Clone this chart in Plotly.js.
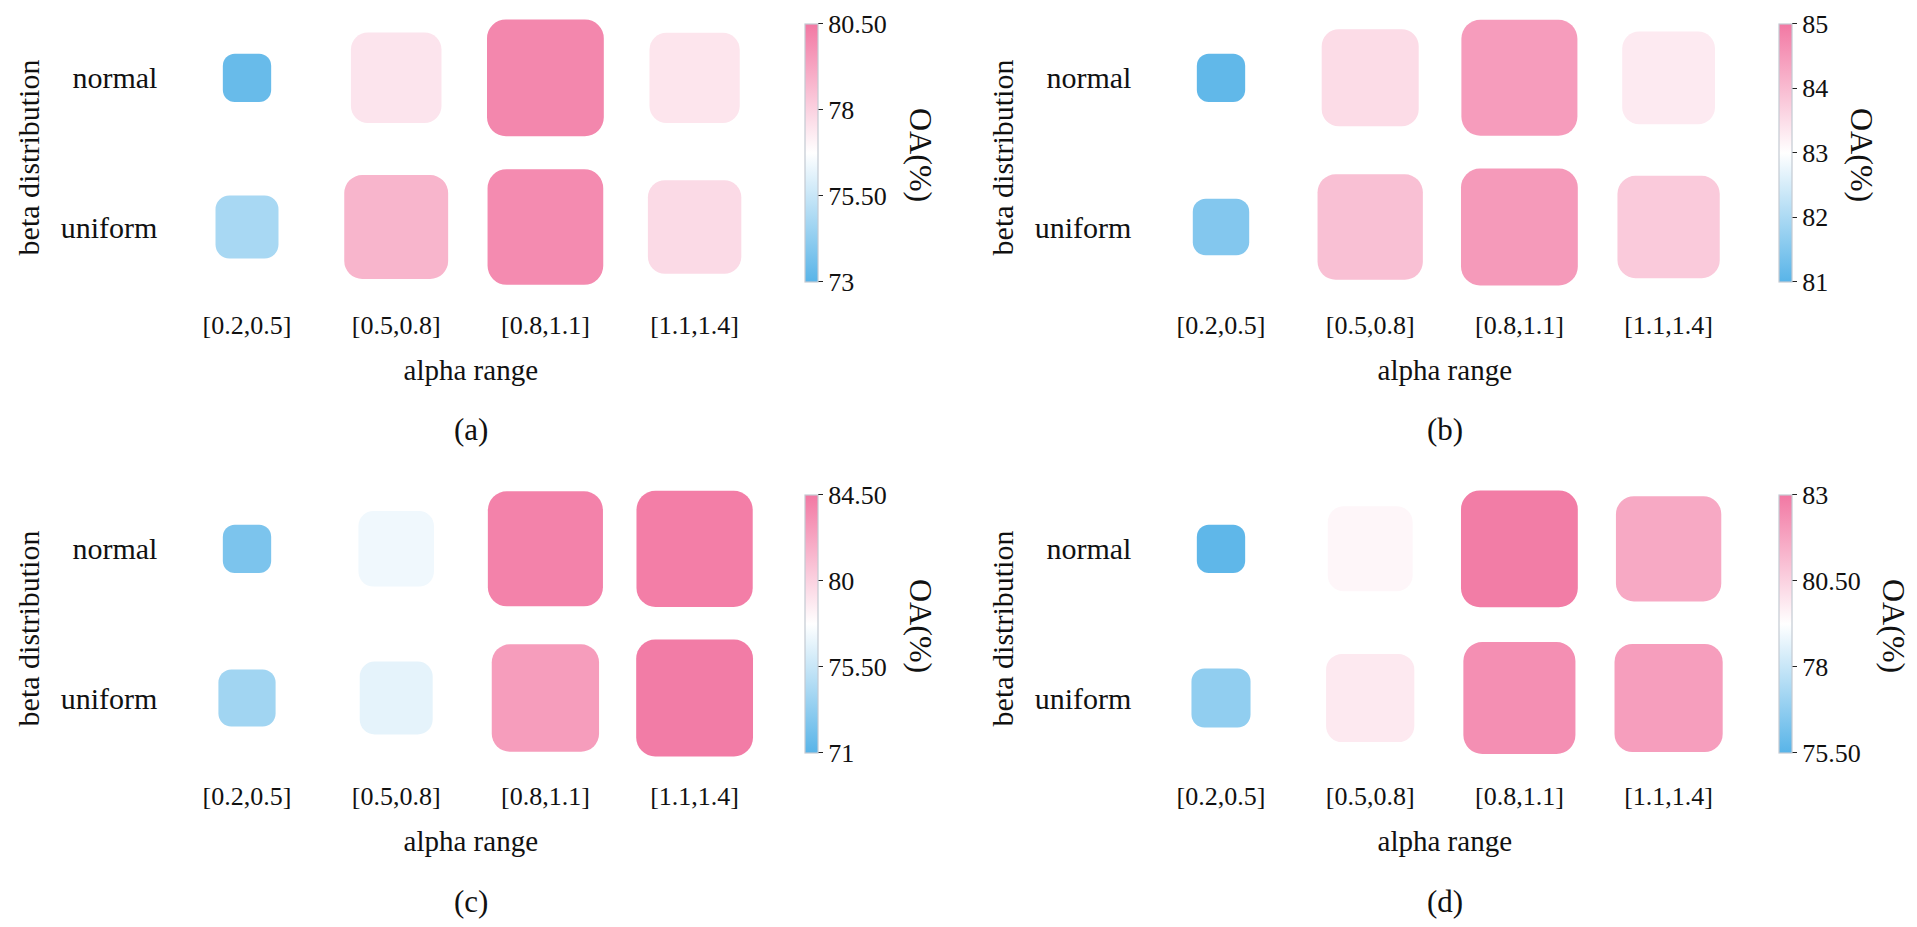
<!DOCTYPE html>
<html>
<head>
<meta charset="utf-8">
<script src="https://cdn.plot.ly/plotly-3.0.1.min.js"></script>
<style>
  html, body { margin: 0; padding: 0; background: #ffffff; }
  #chart { width: 1917px; height: 927px; }
</style>
</head>
<body>
<div id="chart"></div>
<script>
// ---------------- data ----------------
const alphaRanges = ['[0.2,0.5]', '[0.5,0.8]', '[0.8,1.1]', '[1.1,1.4]'];
const betaDists = ['normal', 'uniform'];
const panelLabels = ['(a)', '(b)', '(c)', '(d)'];

const oaA_normal  = [73.35, 77.50, 80.08, 77.47];
const oaA_uniform = [74.79, 78.81, 79.97, 77.78];
const oaB_normal  = [81.11, 83.52, 84.46, 83.31];
const oaB_uniform = [81.51, 83.93, 84.50, 83.78];
const oaC_normal  = [72.44, 77.15, 84.00, 84.20];
const oaC_uniform = [73.97, 76.70, 82.65, 84.30];
const oaD_normal  = [75.65, 79.50, 82.86, 81.65];
const oaD_uniform = [76.78, 79.85, 82.36, 81.95];

const cbarRangeA = [73, 80.5];
const cbarRangeB = [81, 85];
const cbarRangeC = [71, 84.5];
const cbarRangeD = [75.5, 83];
const cbarTicksA = [73, 75.5, 78, 80.5];
const cbarTicksB = [81, 82, 83, 84, 85];
const cbarTicksC = [71, 75.5, 80, 84.5];
const cbarTicksD = [75.5, 78, 80.5, 83];
const cbarTextA = ['73', '75.50', '78', '80.50'];
const cbarTextB = ['81', '82', '83', '84', '85'];
const cbarTextC = ['71', '75.50', '80', '84.50'];
const cbarTextD = ['75.50', '78', '80.50', '83'];

// ---------------- styling / layout ----------------
const W = 1917, H = 927;
const FONT = '"Liberation Serif", "Times New Roman", Times, serif';
const colorscale = [[0, '#58B4E8'], [0.5, '#FFFFFF'], [1, '#F278A3']];
const UNIT = 149.2;            // px per data unit (both axes)
const SMIN = 0.324, SMAX = 0.783; // square side (data units) for panel min / max value
const COL_DX = 974, ROW_DY = 471;

const panels = [
  {normal: oaA_normal, uniform: oaA_uniform, range: cbarRangeA, ticks: cbarTicksA, text: cbarTextA, oaOff: 116},
  {normal: oaB_normal, uniform: oaB_uniform, range: cbarRangeB, ticks: cbarTicksB, text: cbarTextB, oaOff: 83},
  {normal: oaC_normal, uniform: oaC_uniform, range: cbarRangeC, ticks: cbarTicksC, text: cbarTextC, oaOff: 116},
  {normal: oaD_normal, uniform: oaD_uniform, range: cbarRangeD, ticks: cbarTicksD, text: cbarTextD, oaOff: 115}
];

const px2x = p => p / W;
const px2y = p => 1 - p / H;

const traces = [];
const layout = {
  width: W, height: H,
  margin: {l: 0, r: 0, t: 0, b: 0},
  paper_bgcolor: '#ffffff', plot_bgcolor: '#ffffff',
  showlegend: false,
  barmode: 'overlay',
  font: {family: FONT, color: '#111111', size: 26},
  annotations: []
};

const rowPos = {normal: 1, uniform: 0};
const yTop = 1 + (77.8 - 10) / UNIT;       // range top
const yBot = 0 - (305 - 227) / UNIT;       // range bottom

panels.forEach((p, i) => {
  const col = i % 2, row = Math.floor(i / 2);
  const dx = col * COL_DX, dy = row * ROW_DY;
  const sfx = i === 0 ? '' : String(i + 1);
  const xa = 'x' + sfx, ya = 'y' + sfx, ca = 'coloraxis' + sfx;

  const x0 = 172.4 + dx, x1 = 769.2 + dx;
  const y0 = 10 + dy, y1 = 305 + dy;

  layout['xaxis' + sfx] = {
    domain: [px2x(x0), px2x(x1)], anchor: ya,
    type: 'category', categoryorder: 'array', categoryarray: alphaRanges,
    range: [-0.5, 3.5], fixedrange: true,
    showgrid: false, zeroline: false, showline: false, ticks: '',
    tickfont: {family: FONT, size: 26, color: '#111111'},
    ticklabelstandoff: 2,
    title: {text: 'alpha range', font: {family: FONT, size: 29, color: '#111111'}, standoff: 20}
  };
  layout['yaxis' + sfx] = {
    domain: [px2y(y1), px2y(y0)], anchor: xa,
    range: [yBot, yTop], fixedrange: true,
    tickmode: 'array', tickvals: betaDists.map(d => rowPos[d]), ticktext: betaDists,
    showgrid: false, zeroline: false, showline: false, ticks: '',
    tickfont: {family: FONT, size: 30, color: '#111111'},
    ticklabelstandoff: 14,
    title: {text: 'beta distribution', font: {family: FONT, size: 30, color: '#111111'}, standoff: 12}
  };

  const cbLeft = 805 + dx;
  const cbTop = 23.3 + dy, cbBottom = 281.7 + dy;
  layout[ca] = {
    cmin: p.range[0], cmax: p.range[1], colorscale: colorscale,
    colorbar: {
      x: px2x(cbLeft), xanchor: 'left', xpad: 0,
      y: px2y((cbTop + cbBottom) / 2), yanchor: 'middle', ypad: 0,
      len: cbBottom - cbTop, lenmode: 'pixels',
      thickness: 13, thicknessmode: 'pixels',
      outlinewidth: 1.2, outlinecolor: '#c4cad2',
      ticks: 'outside', ticklen: 5, tickwidth: 1, tickcolor: '#222222',
      tickmode: 'array', tickvals: p.ticks, ticktext: p.text,
      tickfont: {family: FONT, size: 26, color: '#111111'},
      ticklabelstandoff: 4
    }
  };

  const all = p.normal.concat(p.uniform);
  const vmin = Math.min.apply(null, all), vmax = Math.max.apply(null, all);

  betaDists.forEach(dist => {
    const vals = p[dist];
    const c = rowPos[dist];
    vals.forEach((v, k) => {
      const s = SMIN + (SMAX - SMIN) * (v - vmin) / (vmax - vmin);
      const sidePx = s * UNIT;
      traces.push({
        type: 'bar',
        x: [alphaRanges[k]],
        y: [s],
        base: [c - s / 2],
        width: [s],
        xaxis: xa, yaxis: ya,
        marker: {
          color: [v], coloraxis: ca,
          line: {width: 0},
          cornerradius: Math.round(0.1 * sidePx + 7.5)
        },
        hoverinfo: 'skip',
        showlegend: false
      });
    });
  });

  // colorbar label
  layout.annotations.push({
    text: 'OA(%)', textangle: 90, showarrow: false,
    xref: 'paper', yref: 'paper',
    x: px2x(cbLeft + p.oaOff), y: px2y(155 + dy),
    xanchor: 'center', yanchor: 'middle',
    font: {family: FONT, size: 32, color: '#111111'}
  });
  // panel label
  layout.annotations.push({
    text: panelLabels[i], showarrow: false,
    xref: 'paper', yref: 'paper',
    x: px2x((x0 + x1) / 2), y: px2y(430 + dy),
    xanchor: 'center', yanchor: 'middle',
    font: {family: FONT, size: 31, color: '#111111'}
  });
});

Plotly.newPlot('chart', traces, layout, {displayModeBar: false, staticPlot: true});
</script>
</body>
</html>
